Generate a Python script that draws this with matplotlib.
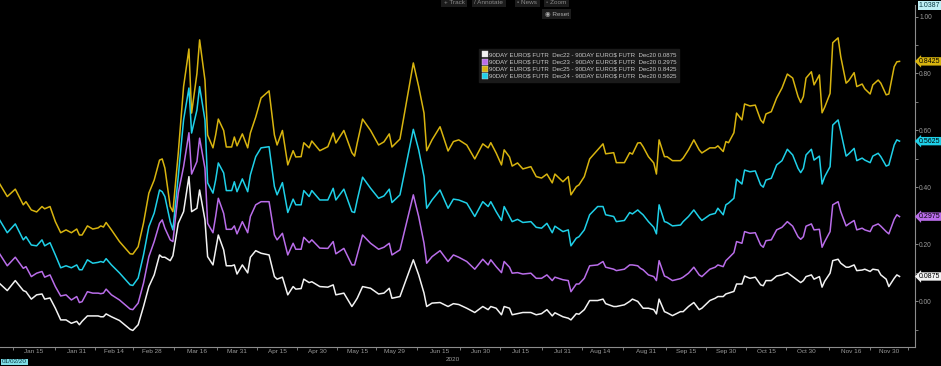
import numpy as np
import matplotlib

matplotlib.use("Agg")
import matplotlib.pyplot as plt
import matplotlib.dates as mdates
from matplotlib.lines import Line2D

# day of year (2020) for each sample
days = [2, 5, 8, 11, 12, 14, 16, 18, 19, 21, 23, 25, 27, 29, 31, 32, 33, 35, 37, 39,
        40, 41, 42, 44, 47, 51, 52, 54, 56, 58, 60, 62, 63, 64, 66, 67, 69, 71, 73, 74,
        76, 77, 79, 80, 82, 83, 84, 86, 87, 89, 90, 91, 93, 95, 96, 98, 100, 103, 105, 106,
        108, 110, 112, 113, 115, 116, 118, 119, 122, 125, 127, 128, 131, 134, 135, 136, 138, 141, 144, 146,
        148, 149, 152, 157, 159, 161, 162, 164, 167, 170, 172, 174, 177, 180, 183, 185, 186, 188, 190, 191,
        193, 194, 196, 198, 201, 203, 205, 207, 209, 210, 213, 215, 216, 218, 219, 221, 223, 226, 228, 229,
        232, 233, 236, 238, 239, 241, 242, 243, 245, 247, 248, 249, 251, 252, 254, 257, 258, 260, 262, 264,
        265, 268, 270, 271, 273, 274, 275, 277, 278, 280, 281, 283, 285, 287, 288, 289, 291, 293, 295, 297,
        299, 301, 302, 303, 304, 306, 307, 309, 310, 311, 313, 314, 316, 317, 319, 320, 322, 323, 325, 326,
        328, 329, 331, 332, 334, 335, 337, 338, 339]

dec25 = [.415, .368, .394, .339, .350, .321, .314, .333, .325, .333, .280, .241, .251, .241, .254, .233, .233, .265, .254, .258,
         .265, .261, .277, .251, .210, .167, .166, .192, .275, .380, .426, .496, .500, .468, .333, .315, .520, .754, .886, .661,
         .800, .918, .777, .584, .539, .584, .640, .600, .542, .542, .577, .546, .588, .539, .591, .647, .714, .739, .584, .549,
         .600, .479, .529, .507, .508, .557, .539, .563, .529, .543, .591, .556, .600, .522, .510, .556, .640, .600, .549, .560,
         .588, .542, .570, .837, .754, .661, .529, .567, .613, .528, .561, .567, .549, .500, .553, .539, .557, .521, .479, .532,
         .507, .475, .486, .465, .473, .438, .433, .447, .416, .447, .420, .438, .374, .403, .409, .438, .500, .532, .553, .518,
         .522, .487, .487, .522, .517, .556, .557, .543, .508, .486, .447, .567, .508, .508, .494, .494, .503, .532, .567, .532,
         .521, .539, .539, .546, .526, .561, .557, .592, .661, .637, .693, .686, .689, .637, .626, .658, .666, .714, .749, .798,
         .784, .719, .698, .719, .784, .806, .760, .795, .662, .682, .730, .908, .925, .859, .766, .775, .803, .754, .763, .746,
         .728, .760, .777, .766, .725, .728, .824, .841, .8425]

dec24 = [.288, .241, .272, .216, .227, .198, .195, .216, .195, .206, .163, .118, .125, .118, .128, .111, .111, .146, .134, .137,
         .140, .137, .150, .128, .100, .058, .056, .082, .163, .262, .310, .391, .385, .368, .280, .251, .438, .637, .749, .591,
         .672, .754, .637, .416, .380, .426, .486, .451, .389, .389, .420, .385, .430, .385, .444, .508, .539, .543, .403, .374,
         .417, .312, .359, .339, .339, .389, .368, .389, .356, .356, .397, .356, .394, .315, .312, .356, .436, .397, .362, .370,
         .394, .347, .374, .604, .532, .438, .327, .356, .391, .327, .359, .356, .345, .298, .350, .333, .350, .315, .284, .333,
         .298, .280, .288, .277, .280, .260, .257, .274, .241, .264, .245, .251, .195, .222, .227, .251, .304, .333, .333, .304,
         .298, .280, .284, .312, .307, .321, .312, .304, .280, .260, .237, .339, .280, .277, .265, .268, .280, .298, .321, .295,
         .284, .304, .309, .327, .304, .339, .345, .362, .429, .412, .461, .455, .458, .409, .401, .426, .432, .479, .494, .534,
         .514, .467, .452, .467, .514, .534, .496, .510, .412, .438, .473, .619, .637, .596, .510, .518, .537, .494, .503, .496,
         .487, .510, .520, .508, .475, .479, .549, .567, .5625]

dec23 = [.169, .125, .155, .116, .122, .087, .099, .105, .085, .093, .052, .019, .023, .005, .017, -.004, -.001, .034, .029, .029,
         .027, .029, .043, .023, .005, -.027, -.029, -.006, .064, .157, .210, .274, .286, .257, .216, .210, .380, .473, .592, .447,
         .491, .573, .467, .274, .241, .298, .362, .309, .253, .253, .265, .237, .280, .241, .298, .339, .350, .350, .233, .216,
         .239, .163, .204, .183, .183, .225, .206, .216, .187, .186, .210, .167, .186, .128, .128, .163, .233, .204, .183, .190,
         .204, .163, .181, .374, .298, .204, .134, .157, .178, .140, .163, .155, .140, .113, .148, .128, .146, .122, .101, .140,
         .120, .099, .101, .096, .099, .081, .081, .093, .073, .085, .076, .073, .034, .061, .061, .081, .125, .128, .140, .120,
         .113, .108, .113, .128, .128, .125, .116, .111, .093, .087, .073, .143, .089, .085, .073, .080, .085, .099, .120, .093,
         .087, .113, .120, .128, .122, .143, .152, .171, .210, .204, .245, .239, .241, .198, .190, .213, .216, .251, .260, .280,
         .264, .227, .218, .227, .264, .272, .251, .253, .190, .210, .245, .339, .350, .315, .265, .272, .284, .251, .257, .251,
         .245, .264, .272, .264, .245, .237, .288, .304, .2975]

dec22 = [.064, .038, .073, .038, .034, .008, .023, .026, .008, .012, -.024, -.065, -.065, -.077, -.070, -.082, -.070, -.051, -.051, -.051,
         -.054, -.054, -.044, -.054, -.067, -.098, -.102, -.082, -.018, .052, .093, .163, .155, .155, .143, .160, .274, .315, .438, .315,
         .327, .391, .286, .157, .128, .181, .233, .181, .125, .125, .128, .096, .128, .100, .155, .178, .169, .163, .087, .078,
         .085, .023, .052, .043, .045, .078, .066, .069, .052, .050, .058, .023, .029, -.018, -.004, .011, .052, .046, .026, .029,
         .046, .011, .017, .146, .093, .029, -.018, -.006, -.004, -.018, -.008, -.011, -.024, -.039, -.018, -.029, -.018, -.024, -.047, -.018,
         -.024, -.047, -.043, -.039, -.039, -.047, -.043, -.029, -.051, -.040, -.054, -.059, -.065, -.043, -.045, -.029, .003, .003, .008, -.008,
         -.018, -.018, -.012, .000, .008, .000, -.012, -.024, -.024, -.029, -.044, .008, -.036, -.040, -.050, -.036, -.036, -.018, -.004, -.029,
         -.024, .003, .011, .017, .017, .026, .029, .035, .061, .061, .089, .081, .085, .058, .055, .073, .073, .089, .093, .101,
         .087, .073, .066, .073, .087, .093, .078, .087, .050, .071, .099, .143, .148, .134, .120, .120, .128, .108, .110, .113,
         .105, .113, .110, .093, .078, .052, .081, .093, .0875]

tick_labels = ["Jan 15", "Jan 31", "Feb 14", "Feb 28", "Mar 16", "Mar 31", "Apr 15", "Apr 30",
               "May 15", "May 29", "Jun 15", "Jun 30", "Jul 15", "Jul 31", "Aug 14", "Aug 31",
               "Sep 15", "Sep 30", "Oct 15", "Oct 30", "Nov 16", "Nov 30"]
y_ticks = [0.0, 0.2, 0.4, 0.6, 0.8, 1.0]

names = ["90DAY EURO\\$ FUTR  Dec22 - 90DAY EURO\\$ FUTR  Dec20 0.0875",
         "90DAY EURO\\$ FUTR  Dec23 - 90DAY EURO\\$ FUTR  Dec20 0.2975",
         "90DAY EURO\\$ FUTR  Dec25 - 90DAY EURO\\$ FUTR  Dec20 0.8425",
         "90DAY EURO\\$ FUTR  Dec24 - 90DAY EURO\\$ FUTR  Dec20 0.5625"]
colors = ["#f2f2f2", "#b96de9", "#d8b40f", "#1fd0e8"]
series = [dec22, dec23, dec25, dec24]

plt.rcParams["font.family"] = ["Liberation Sans", "DejaVu Sans"]

base = np.datetime64("2019-12-31")
dates = base + np.array(days).astype("timedelta64[D]")
x = mdates.date2num(dates)
x0 = mdates.date2num(base)

fig = plt.figure(figsize=(9.41, 3.66), dpi=100, facecolor="black")
ax = fig.add_axes([0.0, 0.052, 0.9724, 0.933], facecolor="black")

for vals, col in zip([dec25, dec24, dec23, dec22], [colors[2], colors[3], colors[1], colors[0]]):
    ax.plot(x, vals, color=col, lw=1.1, solid_joinstyle="round")

ax.set_xlim(x0 + 2.28, x0 + 344.8)
ax.set_ylim(-0.16, 1.0387)

grey = "#9a9a9a"
for side in ["top", "left"]:
    ax.spines[side].set_visible(False)
for side in ["right", "bottom"]:
    ax.spines[side].set_color("#8c8c8c")
    ax.spines[side].set_linewidth(0.8)

month_num = {"Jan": 1, "Feb": 2, "Mar": 3, "Apr": 4, "May": 5, "Jun": 6, "Jul": 7,
             "Aug": 8, "Sep": 9, "Oct": 10, "Nov": 11}
tick_pos = [mdates.date2num(np.datetime64(f"2020-{month_num[t[:3]]:02d}-{int(t[4:]):02d}"))
            for t in tick_labels]
ax.set_xticks(tick_pos)
ax.set_xticklabels(tick_labels)
mids = [(a + b) / 2 for a, b in zip(tick_pos[:-1], tick_pos[1:])]
mids = [tick_pos[0] - 8] + mids + [tick_pos[-1] + 7]
ax.set_xticks(mids, minor=True)
ax.tick_params(axis="x", which="major", length=0, pad=1.5, labelsize=4.6, colors=grey)
ax.tick_params(axis="x", which="minor", length=2.5, color="#8c8c8c", width=0.6)

ax.yaxis.tick_right()
ax.set_yticks(y_ticks)
ax.set_yticklabels([f"{v:.2f}" for v in y_ticks])
ax.set_yticks(np.arange(-0.1, 1.0, 0.2), minor=True)
ax.tick_params(axis="y", which="major", length=2, pad=1, labelsize=4.8, colors=grey, width=0.6)
ax.tick_params(axis="y", which="minor", length=2, color="#8c8c8c", width=0.6)

# last-value tags on the right axis
for vals, col in zip(series, colors):
    ax.annotate(f"{vals[-1]:.4f}", xy=(1.0, vals[-1]), xycoords=ax.get_yaxis_transform(),
                xytext=(3.0, 0), textcoords="offset points", ha="left", va="center",
                fontsize=5.0, color="black", annotation_clip=False,
                bbox=dict(boxstyle="larrow,pad=0.1", fc=col, ec="none"))
ax.annotate("1.0387", xy=(1.0, 1.0387), xycoords=ax.get_yaxis_transform(),
            xytext=(2.5, 0), textcoords="offset points", ha="left", va="center",
            fontsize=5.0, color="#0b3b44", annotation_clip=False,
            bbox=dict(boxstyle="square,pad=0.12", fc="#bfeff5", ec="none"))

handles = [Line2D([], [], ls="none", marker="s", ms=4, mfc=c, mec="#dddddd", mew=0.3) for c in colors]
leg = ax.legend(handles, names, loc="upper left", bbox_to_anchor=(0.524, 0.872), fontsize=4.4,
                frameon=True, facecolor="#1a1a1a", edgecolor="#1a1a1a", framealpha=1,
                labelcolor="#c8c8c8", handlelength=0.7, handletextpad=0.3, borderpad=0.5,
                labelspacing=0.3, borderaxespad=0)
leg.get_frame().set_boxstyle("square,pad=0")

fig.text(0.4815, 0.017, "2020", ha="center", va="center", fontsize=4.6, color=grey)
fig.text(0.002, 0.011, "01/02/20", ha="left", va="center", fontsize=4.6, color="#0b3b44",
         bbox=dict(boxstyle="square,pad=0.15", fc="#7fdde6", ec="none"))

# chart toolbar
btn = dict(boxstyle="square,pad=0.35", fc="#1c1c1c", ec="none")
for label, xp in [("+ Track", 0.4825), ("/ Annotate", 0.5195), ("\u25ab News", 0.5605), ("\u25e6 Zoom", 0.5915)]:
    fig.text(xp, 0.993, label, ha="center", va="center", fontsize=4.6, color="#8a8a8a", bbox=btn)
fig.text(0.5915, 0.962, "\u25c9 Reset", ha="center", va="center", fontsize=4.6, color="#b0b0b0", bbox=btn)

fig.savefig("out.png", dpi=100, facecolor="black")
